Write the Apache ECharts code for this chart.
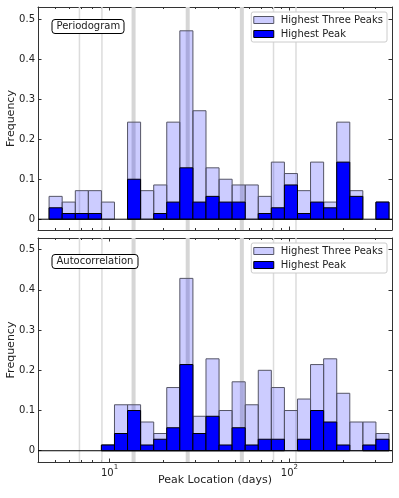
<!DOCTYPE html>
<html>
<head>
<meta charset="utf-8">
<title>Peak Location Histograms</title>
<script src="https://cdn.jsdelivr.net/npm/echarts@6/dist/echarts.min.js"></script>
<style>
    html, body { margin: 0; padding: 0; background: #fff; }
    #chart { width: 399px; height: 498px; }
</style>
</head>
<body>
<div id="chart"></div>
<script>
    // histogram bin edges (days, log spaced)
    var binEdges = [4.61, 5.45, 6.45, 7.62, 9.01, 10.65, 12.59, 14.88, 17.60, 20.80, 24.59, 29.07, 34.37,
                    40.63, 48.03, 56.78, 67.13, 79.36, 93.82, 110.9, 131.1, 155.0, 183.3, 216.7, 256.1, 302.8, 358.0];
    var nStars = 70;
    // counts per bin, frequency = count / nStars
    var periodThree = [4, 3, 5, 5, 3, 0, 17, 5, 6, 17, 33, 19, 9, 7, 6, 6, 4, 10, 8, 5, 10, 3, 17, 5, 0, 3];
    var periodTop   = [2, 1, 1, 1, 0, 0, 7, 0, 1, 3, 9, 3, 4, 3, 3, 0, 1, 2, 6, 1, 3, 2, 10, 4, 0, 3];
    var acfThree    = [0, 0, 0, 0, 1, 8, 8, 5, 3, 11, 30, 6, 16, 7, 12, 8, 14, 11, 7, 9, 15, 16, 10, 5, 5, 3];
    var acfTop      = [0, 0, 0, 0, 1, 3, 7, 1, 2, 4, 15, 3, 6, 1, 4, 1, 2, 2, 0, 2, 7, 5, 1, 0, 1, 2];
    // grey reference lines (multiples of ~27.2 d), 1 = thick
    var refLines = [6.8, 9.07, 13.6, 27.2, 54.4, 81.6, 108.8];
    var refThick = [0, 0, 1, 1, 1, 0, 0];
    var majorTicks = [10, 100];
    var minorTicks = [4, 5, 6, 7, 8, 9, 20, 30, 40, 50, 60, 70, 80, 90, 200, 300];
    var yTicks = [0, 0.1, 0.2, 0.3, 0.4, 0.5];

    var FONT = 'DejaVu Sans';
    var xMin = Math.log10(4), xMax = Math.log10(372);
    var LIGHT = 'rgba(0,0,255,0.2)', LIGHT_EDGE = '#555566';

    function binData(counts) {
        var out = [];
        for (var i = 0; i < counts.length; i++) {
            out.push([Math.log10(binEdges[i]), Math.log10(binEdges[i + 1]), counts[i] / nStars]);
        }
        return out;
    }

    function barItem(fill, stroke) {
        return function (params, api) {
            var h = api.value(2);
            if (h <= 0) return null;
            var p0 = api.coord([api.value(0), 0]);
            var p1 = api.coord([api.value(1), h]);
            return {
                type: 'rect',
                shape: { x: p0[0], y: p1[1], width: p1[0] - p0[0], height: p0[1] - p1[1] },
                style: { fill: fill, stroke: stroke, lineWidth: 1 }
            };
        };
    }

    function refLineItem(params, api) {
        var x = api.coord([api.value(0), 0])[0];
        var cs = params.coordSys;
        var thick = api.value(1) === 1;
        return {
            type: 'line',
            shape: { x1: x, y1: cs.y, x2: x, y2: cs.y + cs.height },
            style: { stroke: thick ? '#d6d6d6' : '#dcdcdc', lineWidth: thick ? 4 : 1.5 }
        };
    }

    function zeroLineItem(params, api) {
        var y = api.coord([xMin, 0])[1];
        var cs = params.coordSys;
        return {
            type: 'line',
            shape: { x1: cs.x, y1: y, x2: cs.x + cs.width, y2: y },
            style: { stroke: '#000', lineWidth: 1 }
        };
    }

    function xAxisDef(grid, pos, ticks, len, labels) {
        return {
            type: 'value', gridIndex: grid, position: pos, min: xMin, max: xMax,
            axisLine: { show: len > 2, onZero: false, lineStyle: { color: '#333', width: 1 } },
            axisTick: { show: true, inside: true, length: len, customValues: ticks.map(Math.log10),
                        lineStyle: { color: '#333', width: 1 } },
            axisLabel: labels ? {
                customValues: [1, 2], margin: 2,
                formatter: function (v) { return '{b|10}{s|' + Math.round(v) + '}'; },
                rich: {
                    b: { fontFamily: FONT, fontSize: 10, color: '#222', lineHeight: 14, verticalAlign: 'bottom' },
                    s: { fontFamily: FONT, fontSize: 7, color: '#222', lineHeight: 14, verticalAlign: 'top' }
                }
            } : { show: false },
            splitLine: { show: false }
        };
    }

    function yAxisDef(grid, pos, lo, hi, named) {
        return {
            type: 'value', gridIndex: grid, position: pos, min: lo, max: hi,
            name: named ? 'Frequency' : '', nameLocation: 'middle', nameGap: 21, nameRotate: 90,
            nameMoveOverlap: false,
            nameTextStyle: { fontFamily: FONT, fontSize: 11, color: '#222' },
            axisLine: { show: true, onZero: false, lineStyle: { color: '#333', width: 1 } },
            axisTick: { show: true, inside: true, length: 3.5, customValues: yTicks, lineStyle: { color: '#333' } },
            axisLabel: named ? {
                customValues: yTicks, margin: 3, fontFamily: FONT, fontSize: 10, color: '#222',
                formatter: function (v) { return v === 0 ? '0' : v.toFixed(1); }
            } : { show: false },
            splitLine: { show: false }
        };
    }

    function legendDef(top) {
        return {
            right: 12, top: top, orient: 'vertical', icon: 'rect', itemWidth: 20, itemHeight: 7, itemGap: 4,
            padding: [3, 4, 3, 2], backgroundColor: '#fff', borderColor: '#cccccc', borderWidth: 1, borderRadius: 2,
            selectedMode: false,
            textStyle: { fontFamily: FONT, fontSize: 10, color: '#222', padding: [0, 0, 0, 2] },
            data: [
                { name: 'Highest Three Peaks', itemStyle: { color: '#ccccff', borderColor: LIGHT_EDGE, borderWidth: 1 } },
                { name: 'Highest Peak', itemStyle: { color: '#0000ff', borderColor: '#000', borderWidth: 1 } }
            ]
        };
    }

    function boxTitle(text, top) {
        return {
            text: text, left: 52, top: top, padding: [2, 4.5],
            borderColor: '#000', borderWidth: 1, borderRadius: 3, backgroundColor: '#fff',
            textStyle: { fontFamily: FONT, fontSize: 10, fontWeight: 'normal', color: '#222', lineHeight: 11 }
        };
    }

    function panelSeries(g, three, top) {
        var xi = g * 4, yi = g * 2;
        var refData = refLines.map(function (p, i) { return [Math.log10(p), refThick[i]]; });
        return [
            { type: 'custom', name: 'refs', xAxisIndex: xi, yAxisIndex: yi, z: 1, silent: true,
              renderItem: refLineItem, data: refData, encode: { x: 0 } },
            { type: 'custom', name: 'Highest Three Peaks', xAxisIndex: xi, yAxisIndex: yi, z: 2,
              renderItem: barItem(LIGHT, LIGHT_EDGE), data: binData(three), encode: { x: [0, 1], y: 2 } },
            { type: 'custom', name: 'Highest Peak', xAxisIndex: xi, yAxisIndex: yi, z: 3,
              renderItem: barItem('#0000ff', '#000'), data: binData(top), encode: { x: [0, 1], y: 2 } },
            { type: 'custom', name: 'zero', xAxisIndex: xi, yAxisIndex: yi, z: 4, silent: true,
              renderItem: zeroLineItem, data: [[xMin, 0]], encode: { x: 0, y: 1 } }
        ];
    }

    var chart = echarts.init(document.getElementById('chart'), null, { renderer: 'canvas' });
    var bottomX = xAxisDef(1, 'bottom', majorTicks, 3.5, true);
    bottomX.name = 'Peak Location (days)';
    bottomX.nameLocation = 'middle';
    bottomX.nameGap = 13;
    bottomX.nameMoveOverlap = false;
    bottomX.nameTextStyle = { fontFamily: FONT, fontSize: 11, color: '#222' };

    var option = {
        animation: false,
        backgroundColor: '#fff',
        title: [boxTitle('Periodogram', 19), boxTitle('Autocorrelation', 254)],
        legend: [legendDef(12), legendDef(243)],
        grid: [
            { left: 38, top: 7, width: 354, height: 223, outerBoundsMode: 'none' },
            { left: 38, top: 238, width: 354, height: 224, outerBoundsMode: 'none' }
        ],
        xAxis: [
            xAxisDef(0, 'bottom', majorTicks, 3.5, false),
            xAxisDef(0, 'top', majorTicks, 3.5, false),
            xAxisDef(0, 'bottom', minorTicks, 2, false),
            xAxisDef(0, 'top', minorTicks, 2, false),
            bottomX,
            xAxisDef(1, 'top', majorTicks, 3.5, false),
            xAxisDef(1, 'bottom', minorTicks, 2, false),
            xAxisDef(1, 'top', minorTicks, 2, false)
        ],
        yAxis: [
            yAxisDef(0, 'left', -0.027, 0.531, true),
            yAxisDef(0, 'right', -0.027, 0.531, false),
            yAxisDef(1, 'left', -0.028, 0.529, true),
            yAxisDef(1, 'right', -0.028, 0.529, false)
        ],
        series: panelSeries(0, periodThree, periodTop).concat(panelSeries(1, acfThree, acfTop))
    };
    chart.setOption(option);
</script>
</body>
</html>
